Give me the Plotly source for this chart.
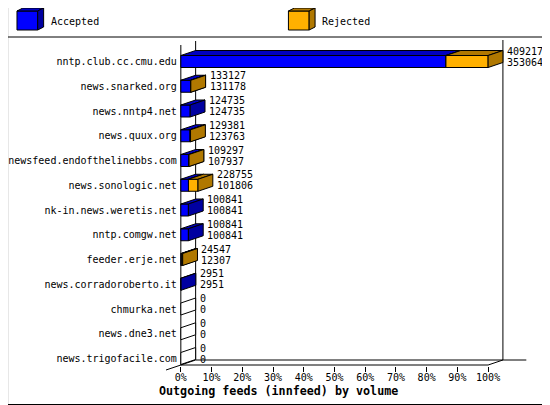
import plotly.graph_objects as go

# innfeed outgoing feeds
hosts = ["nntp.club.cc.cmu.edu", "news.snarked.org", "news.nntp4.net", "news.quux.org",
         "newsfeed.endofthelinebbs.com", "news.sonologic.net", "nk-in.news.weretis.net",
         "nntp.comgw.net", "feeder.erje.net", "news.corradoroberto.it", "chmurka.net",
         "news.dne3.net", "news.trigofacile.com"]
offered = [4092178, 133127, 124735, 129381, 109297, 228755, 100841, 100841, 24547, 2951, 0, 0, 0]
accepted = [3530646, 131178, 124735, 123763, 107937, 101806, 100841, 100841, 12307, 2951, 0, 0, 0]
pct_ticks = [0, 10, 20, 30, 40, 50, 60, 70, 80, 90, 100]

# the page puts the plot 8px in from the corner, so lay out in page px and shift back
OFFX, OFFY = 8, 8
W, HGT = 550 - OFFX, 405 - OFFY
S = 3.113      # px per percent
RY = 24.75     # px per row
Y0 = 61.5      # px of first row
X0 = 176       # px of 0%
LEFT = 175
BOTTOM = 366


def yu(px):
    return (px - Y0) / RY


def xu(px):
    return (px - X0) / S


def pxp(x, y):
    return (x - OFFX) / W, 1 - (y - OFFY) / HGT


DX = 15 / S
DY = -5 / RY
H = 6 / RY

BLUE = ("#0000FF", "#0000C0", "#0000A0")
ORANGE = ("#FFB000", "#B07800", "#B07800")

top = max(offered)
acc_pct = [a / top * 100 for a in accepted]
rej_pct = [(o - a) / top * 100 for o, a in zip(offered, accepted)]


def polys(segs):
    fx, fy, tx, ty, sx, sy = [], [], [], [], [], []
    for i, x0, x1 in segs:
        fx += [x0, x1, x1, x0, x0, None]
        fy += [i + H, i + H, i - H, i - H, i + H, None]
        tx += [x0, x1, x1 + DX, x0 + DX, x0, None]
        ty += [i - H, i - H, i - H + DY, i - H + DY, i - H, None]
        sx += [x1, x1, x1 + DX, x1 + DX, x1, None]
        sy += [i + H, i - H, i - H + DY, i + H + DY, i + H, None]
    return (fx, fy), (tx, ty), (sx, sy)


def face(xy, color):
    return go.Scatter(x=xy[0], y=xy[1], mode="lines", fill="toself", fillcolor=color,
                      line=dict(color="black", width=1), hoverinfo="skip", showlegend=False)


fig = go.Figure()

# frame: walls and floor
frame_line = dict(color="black", width=1)
fig.add_trace(go.Scatter(x=[0, 0], y=[yu(45), yu(365)], mode="lines", line=frame_line,
                         hoverinfo="skip", showlegend=False))
fig.add_trace(go.Scatter(x=[DX, DX, xu(526)], y=[yu(41), yu(360), yu(360)], mode="lines",
                         line=frame_line, hoverinfo="skip", showlegend=False))
fig.add_trace(go.Scatter(x=[100 + DX, 100 + DX], y=[yu(40), yu(360)], mode="lines",
                         line=frame_line, hoverinfo="skip", showlegend=False))
fig.add_trace(go.Scatter(x=[0, 100, 100 + DX], y=[yu(365), yu(365), yu(360)], mode="lines",
                         line=frame_line, hoverinfo="skip", showlegend=False))

# empty rows
zero = [(i, 0, 0) for i in range(len(hosts)) if offered[i] == 0]
if zero:
    fig.add_trace(face(polys(zero)[2], "white"))

acc_segs = [(i, 0, acc_pct[i]) for i in range(len(hosts)) if accepted[i] > 0]
rej_segs = [(i, acc_pct[i], acc_pct[i] + rej_pct[i]) for i in range(len(hosts)) if rej_pct[i] > 0]
for segs, cols in [(acc_segs, BLUE), (rej_segs, ORANGE)]:
    f, t, s = polys(segs)
    fig.add_trace(face(f, cols[0]))
    fig.add_trace(face(t, cols[1]))
    fig.add_trace(face(s, cols[2]))

# value labels
for i in range(len(hosts)):
    end = acc_pct[i] + rej_pct[i]
    for txt, off in [(offered[i], -5.5), (accepted[i], 5.5)]:
        fig.add_annotation(x=end + DX + 4 / S, y=i + DY + off / RY, xref="x", yref="y",
                           text=str(txt), showarrow=False, xanchor="left", yanchor="middle",
                           xshift=-2, font=dict(size=10, color="black"))


def px_path(pts):
    return "M " + " L ".join("{},{}".format(*pxp(x, y)) for x, y in pts) + " Z"


def cube(x, cols):
    return [
        dict(type="path", xref="paper", yref="paper", path=px_path([(x, 11), (x + 21, 11), (x + 21, 30), (x, 30)]),
             fillcolor=cols[0], line=dict(color="black", width=1)),
        dict(type="path", xref="paper", yref="paper", path=px_path([(x, 11), (x + 21, 11), (x + 27, 8), (x + 6, 8)]),
             fillcolor=cols[1], line=dict(color="black", width=1)),
        dict(type="path", xref="paper", yref="paper", path=px_path([(x + 21, 11), (x + 27, 8), (x + 27, 27), (x + 21, 30)]),
             fillcolor=cols[2], line=dict(color="black", width=1)),
    ]


bx0, by1 = pxp(0.5, 0.5)
bx1, by0 = pxp(549.5, 404.5)
sx0, sy = pxp(0, 37)
lx0, ly0 = pxp(161, 370)
lx1, ly1 = pxp(191, 360)
shapes = [
    dict(type="rect", xref="paper", yref="paper", x0=bx0, x1=bx1, y0=by0, y1=by1,
         line=dict(color="black", width=1)),
    dict(type="line", xref="paper", yref="paper", x0=sx0, x1=1, y0=sy, y1=sy,
         line=dict(color="black", width=1)),
    dict(type="line", xref="paper", yref="paper", x0=lx0, x1=lx1, y0=ly0, y1=ly1,
         line=dict(color="black", width=1)),
]
shapes += cube(10, BLUE) + cube(285, ORANGE)

for x, txt in [(44, "Accepted"), (319, "Rejected")]:
    ax, ay = pxp(x, 21)
    fig.add_annotation(x=ax, y=ay, xref="paper", yref="paper", text=txt, xshift=-2,
                       showarrow=False, xanchor="left", yanchor="middle", font=dict(size=10))
tx, ty = pxp(275, 391)
fig.add_annotation(x=tx, y=ty, xref="paper", yref="paper",
                   text="<b>Outgoing feeds (innfeed) by volume</b>",
                   showarrow=False, xanchor="center", yanchor="middle", font=dict(size=11.7))

fig.update_layout(
    width=W, height=HGT, margin=dict(l=0, r=0, t=0, b=0),
    paper_bgcolor="white", plot_bgcolor="white",
    font=dict(family="DejaVu Sans Mono", size=10, color="black"),
    shapes=shapes, showlegend=False,
)
fig.update_xaxes(domain=[pxp(LEFT, 0)[0], 1], range=[xu(LEFT), xu(550)], tickvals=pct_ticks,
                 ticktext=[f"{v}%" for v in pct_ticks], ticks="outside", ticklen=5,
                 ticklabelstandoff=-3,
                 tickcolor="black", showgrid=False, zeroline=False, showline=False)
fig.update_yaxes(domain=[pxp(0, BOTTOM)[1], 1], range=[yu(BOTTOM), yu(OFFY)],
                 tickvals=list(range(len(hosts))), ticktext=hosts, ticks="",
                 ticklabelstandoff=2,
                 showgrid=False, zeroline=False, showline=False)

fig.write_html("out.html")
